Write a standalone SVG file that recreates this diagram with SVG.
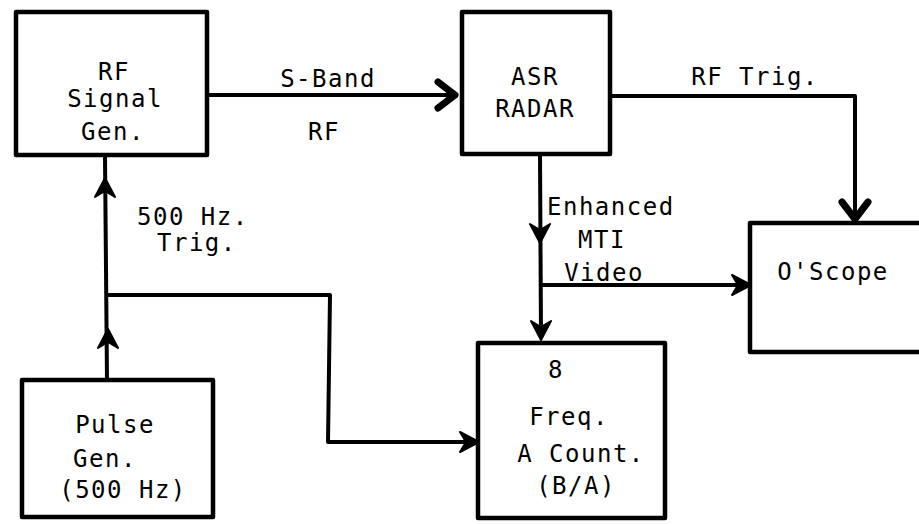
<svg xmlns="http://www.w3.org/2000/svg" width="919" height="524" viewBox="0 0 919 524">
<style>
.box{fill:none;stroke:#000;stroke-width:4.5;stroke-linejoin:round}
.ln{fill:none;stroke:#000;stroke-width:4;stroke-linejoin:round}
.chev{fill:none;stroke:#000;stroke-width:7;stroke-linecap:round;stroke-linejoin:round}
.barb{fill:#000;stroke:#000;stroke-width:2;stroke-linejoin:round}
text{font-family:"DejaVu Sans Mono","Liberation Mono",monospace;font-size:24px;fill:#000;letter-spacing:1.5px}
.m{text-anchor:middle}
</style>
<defs>
<path id="barb" class="barb" d="M0,0 L-19,-10 L-13,0 L-19,10 Z"/>
<path id="chev" class="chev" d="M-17,-13 L0,0 L-17,13"/>
</defs>
<rect width="919" height="524" fill="#fff"/>

<g id="rfgen">
<rect class="box" x="16" y="12" width="191" height="143"/>
<text class="m" x="114" y="80">RF</text>
<text class="m" x="115" y="107">Signal</text>
<text class="m" x="113" y="140">Gen.</text>
</g>

<g id="asr">
<rect class="box" x="462" y="12" width="148" height="142"/>
<text class="m" x="535" y="85">ASR</text>
<text class="m" x="535" y="117">RADAR</text>
</g>

<g id="oscope">
<path class="box" d="M925,223 L750,223 L750,352 L925,352"/>
<text class="m" x="833" y="280">O'Scope</text>
</g>

<g id="freq">
<rect class="box" x="478" y="343" width="187" height="175"/>
<text class="m" x="556" y="378">8</text>
<text class="m" x="569" y="425">Freq.</text>
<text class="m" x="581" y="462">A Count.</text>
<text class="m" x="576" y="494">(B/A)</text>
</g>

<g id="pulsegen">
<rect class="box" x="22" y="380" width="191" height="137"/>
<text class="m" x="115" y="433">Pulse</text>
<text class="m" x="105" y="467">Gen.</text>
<text class="m" x="123" y="498">(500 Hz)</text>
</g>

<g id="connectors">
<path class="ln" d="M207,95 L453,95"/>
<use href="#chev" transform="translate(455,95)"/>
<text class="m" x="328" y="87">S-Band</text>
<text class="m" x="324" y="140">RF</text>

<path class="ln" d="M610,96 L855,96 L855,216"/>
<use href="#chev" transform="translate(855,219) rotate(90)"/>
<text class="m" x="755" y="85">RF Trig.</text>

<path class="ln" d="M540,154 L541,338"/>
<use href="#barb" transform="translate(540,243) rotate(90)"/>
<use href="#barb" transform="translate(541,340) rotate(90)"/>
<text x="547" y="215">Enhanced</text>
<text class="m" x="602" y="248">MTI</text>
<text class="m" x="604" y="281">Video</text>

<path class="ln" d="M541,285 L748,285"/>
<use href="#barb" transform="translate(751,285)"/>

<path class="ln" d="M105,157 L107,380"/>
<use href="#barb" transform="translate(105,178) rotate(-90)"/>
<use href="#barb" transform="translate(108,329) rotate(-90)"/>
<text x="137" y="225">500 Hz.</text>
<text x="157" y="251">Trig.</text>

<path class="ln" d="M107,295 L330,295 L328,442 L476,442"/>
<use href="#barb" transform="translate(479,442)"/>
</g>
</svg>
